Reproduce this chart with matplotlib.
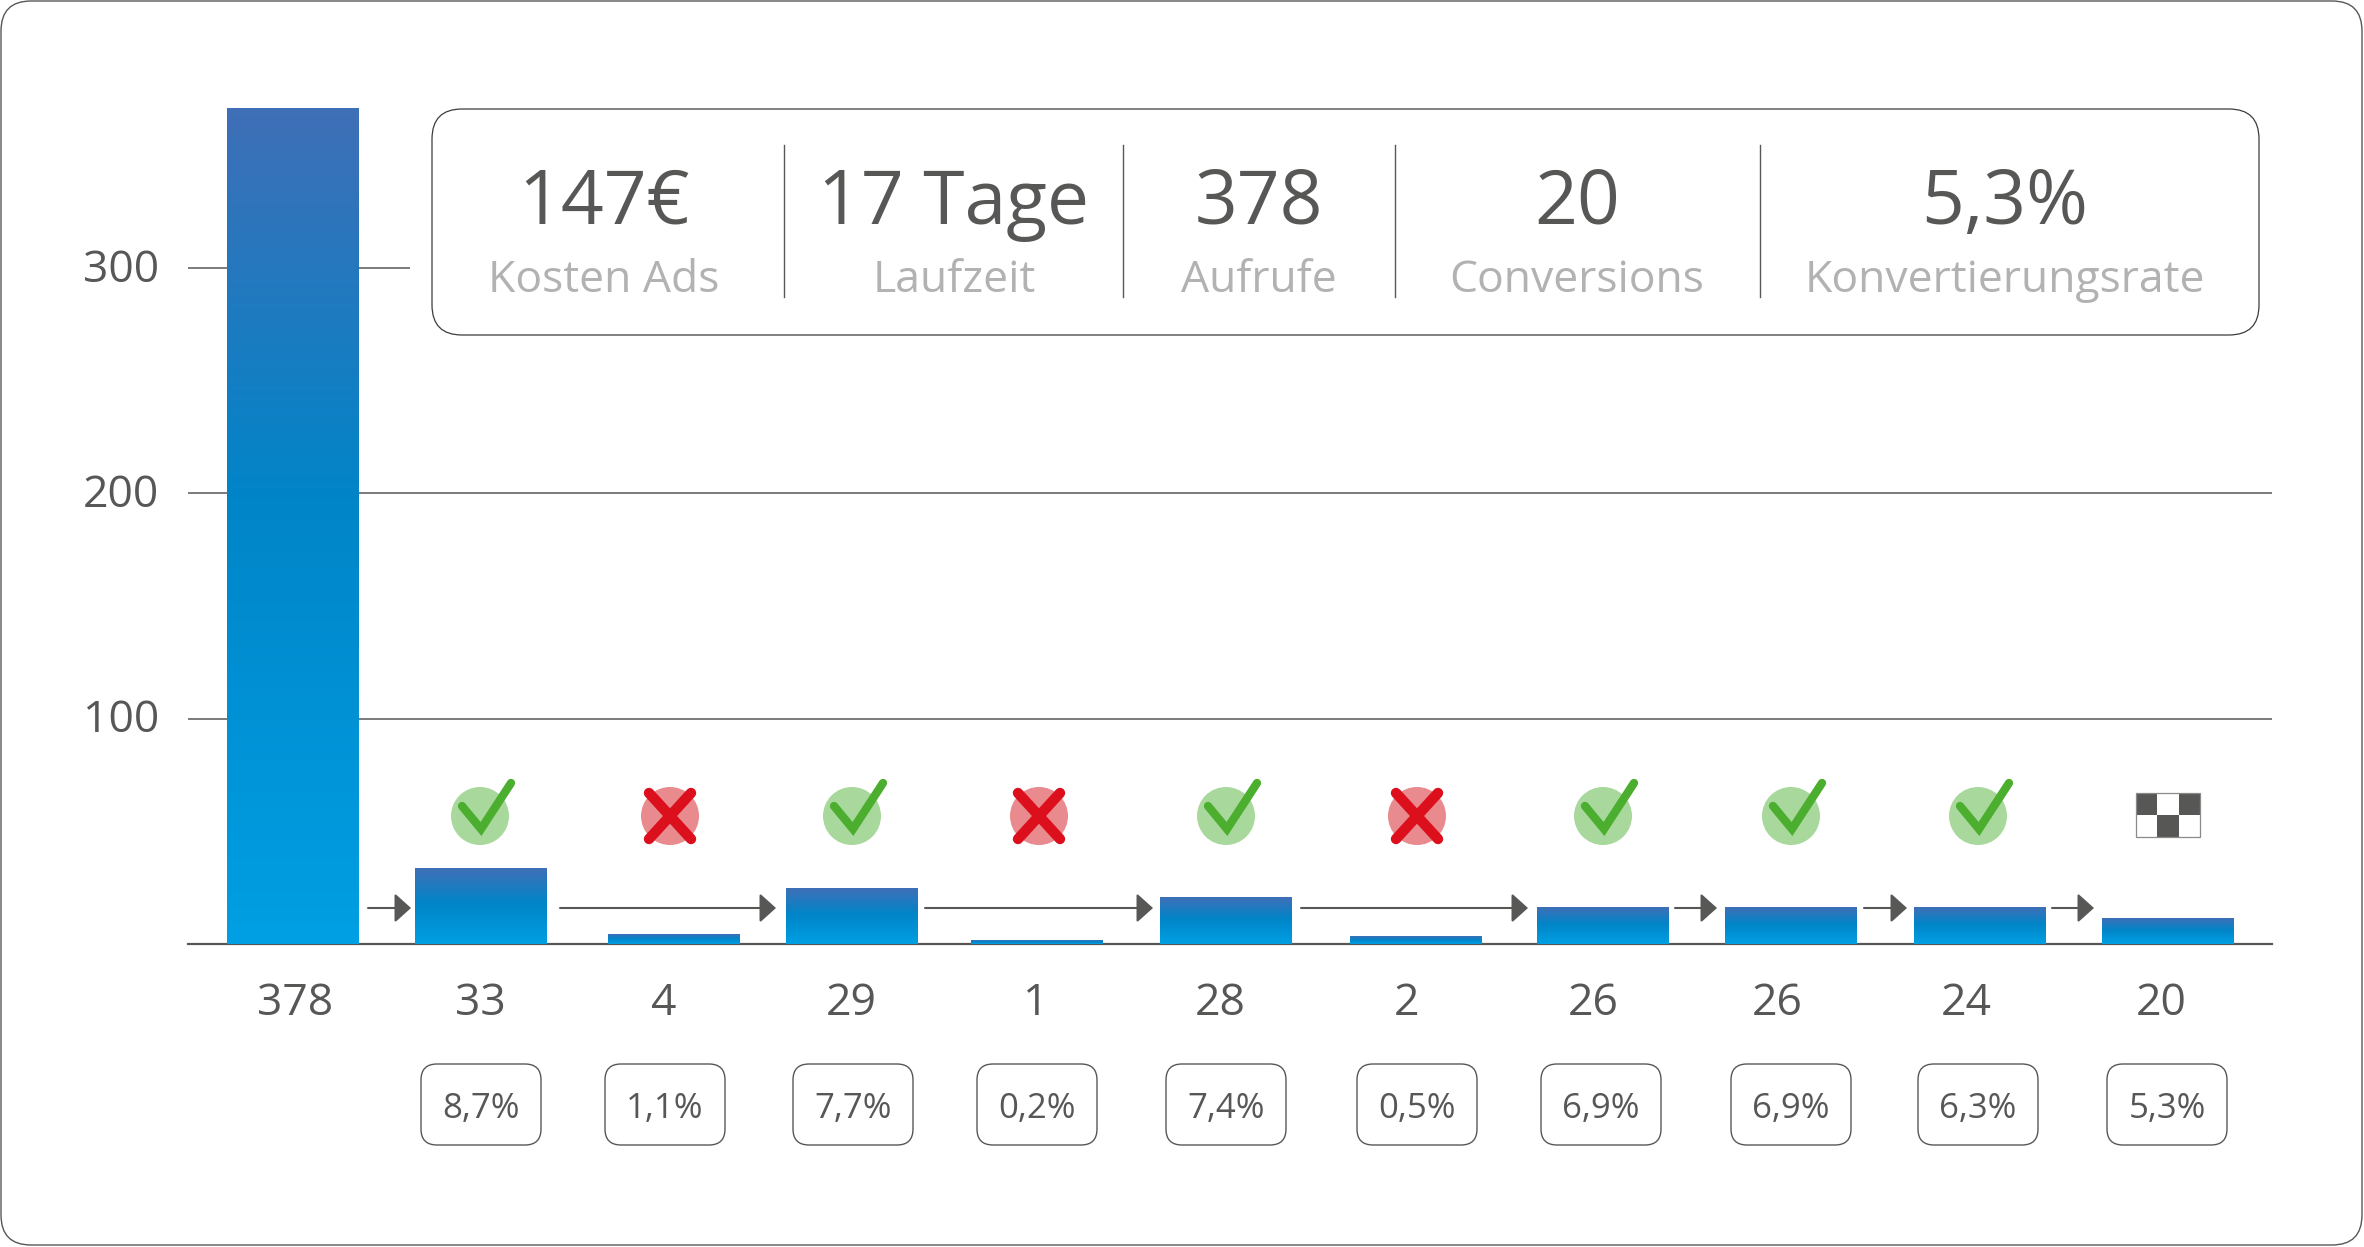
import numpy as np
import matplotlib
matplotlib.use("Agg")
import matplotlib.pyplot as plt
from matplotlib.colors import LinearSegmentedColormap
from matplotlib.patches import FancyBboxPatch, Circle, Rectangle
from matplotlib.transforms import ScaledTranslation

# values as drawn (the bars do not follow the printed numbers exactly)
bar_heights = [371, 33.3, 4, 24.8, 1.5, 20.7, 3.2, 16.4, 16.4, 16.4, 11.5]
view_labels = ["378", "33", "4", "29", "1", "28", "2", "26", "26", "24", "20"]
rate_labels = ["8,7%", "1,1%", "7,7%", "0,2%", "7,4%", "0,5%", "6,9%", "6,9%", "6,3%", "5,3%"]
icon_kinds = ["ok", "no", "ok", "no", "ok", "no", "ok", "ok", "ok", "flag"]
y_ticks = [100, 200, 300]
stat_values = ["147€", "17 Tage", "378", "20", "5,3%"]
stat_names = ["Kosten Ads", "Laufzeit", "Aufrufe", "Conversions", "Konvertierungsrate"]

# layout, in pixels of the 2364x1247 picture
bar_px = [293, 481, 674, 852, 1037, 1226, 1416, 1603, 1791, 1980, 2168]
label_px = [295, 480, 664, 851, 1036, 1220, 1407, 1593, 1777, 1966, 2161]
box_px = [481, 665, 853, 1037, 1226, 1417, 1601, 1791, 1978, 2167]
icon_px = [480, 670, 852, 1039, 1226, 1417, 1603, 1791, 1978, 2168]
arrow_px = [(368, 411), (560, 776), (925, 1153), (1301, 1528), (1675, 1717), (1864, 1907), (2052, 2094)]
stat_px = [604, 954, 1259, 1577, 2005]
sep_px = [784, 1123, 1395, 1760]

W, H = 2364, 1247
DARK = "#575756"
GREY = "#b2b2b2"
FONT = "Open Sans"
plt.rcParams["font.family"] = FONT

fig = plt.figure(figsize=(W / 100, H / 100), dpi=100)

# bar axes: x=188..2272, value 0 at y=944, value 371 at y=108
ax = fig.add_axes([188 / W, 1 - 944 / H, (2272 - 188) / W, (944 - 108) / H])
ax.set_xlim(188, 2272)
ax.set_ylim(0, 371)
for s in ["top", "left", "right"]:
    ax.spines[s].set_visible(False)
ax.spines["bottom"].set_color(DARK)
ax.spines["bottom"].set_linewidth(1.6)
ax.set_xticks(label_px, view_labels)
ax.set_yticks(y_ticks, [str(v) for v in y_ticks])
ax.tick_params(axis="both", length=0, colors=DARK, labelsize=32)
ax.tick_params(axis="x", pad=27)
ax.tick_params(axis="y", pad=21)
# y labels sit a little above their lines
up = ScaledTranslation(0, 3 / 100, fig.dpi_scale_trans)
for t in ax.get_yticklabels():
    t.set_transform(t.get_transform() + up)

ax.hlines([100, 200], 188, 2272, color=DARK, lw=1.1, zorder=1)
ax.hlines(300, 188, 410, color=DARK, lw=1.1, zorder=1)

bars = ax.bar(bar_px, bar_heights, width=132, color="#0085c8", zorder=2)
cmap = LinearSegmentedColormap.from_list("bar", [(0, "#3f6fb7"), (0.47, "#0085c8"), (1, "#009fe3")])
grad = np.linspace(0, 1, 256).reshape(-1, 1)
for b in bars:
    ax.imshow(grad, extent=[b.get_x(), b.get_x() + b.get_width(), 0, b.get_height()],
              cmap=cmap, aspect="auto", zorder=3)
ax.set_xlim(188, 2272)
ax.set_ylim(0, 371)

# overlay in picture pixels for frame, panel, icons, arrows
ov = fig.add_axes([0, 0, 1, 1], zorder=5)
ov.set_xlim(0, W)
ov.set_ylim(H, 0)
ov.axis("off")
ov.patch.set_alpha(0)


def rbox(x0, y0, x1, y1, r, lw, color=DARK):
    ov.add_patch(FancyBboxPatch((x0, y0), x1 - x0, y1 - y0, boxstyle=f"round,pad=0,rounding_size={r}",
                                fc="none", ec=color, lw=lw))


rbox(1, 1, 2362, 1245, 30, 1.0)
rbox(432, 109, 2259, 335, 30, 0.9, "#3c3c3b")

for x in sep_px:
    ov.plot([x, x], [145, 297], color=DARK, lw=1.0)
for x, val, name in zip(stat_px, stat_values, stat_names):
    ov.text(x, 224, val, ha="center", va="baseline", fontsize=54, color=DARK)
    ov.text(x, 292, name, ha="center", va="baseline", fontsize=32, color=GREY)

# small rate boxes
for x, txt in zip(box_px, rate_labels):
    rbox(x - 60, 1064, x + 60, 1145, 16, 1.0)
    ov.text(x, 1118, txt, ha="center", va="baseline", fontsize=25, color=DARK)

# arrows between the steps
for x0, x1 in arrow_px:
    ov.annotate("", xy=(x1, 908), xytext=(x0, 908),
                arrowprops=dict(arrowstyle="-|>,head_length=10,head_width=9", mutation_scale=1,
                                shrinkA=0, shrinkB=0, color=DARK, lw=1.5))

# status icons
cy = 816
for x, kind in zip(icon_px, icon_kinds):
    if kind == "ok":
        ov.add_patch(Circle((x, cy), 29, fc="#a8d89c", ec="none"))
        ov.plot([x - 18, x + 1, x + 31], [cy - 10, cy + 13, cy - 33], color="#4bae2f", lw=6,
                solid_capstyle="round", solid_joinstyle="miter")
    elif kind == "no":
        ov.add_patch(Circle((x, cy), 29, fc="#e98a8f", ec="none"))
        ov.plot([x - 21, x + 21], [cy - 23, cy + 23], color="#dc0f1d", lw=7.5, solid_capstyle="round")
        ov.plot([x - 21, x + 21], [cy + 23, cy - 23], color="#dc0f1d", lw=7.5, solid_capstyle="round")
    else:
        cell_w, cell_h = 64 / 3, 22
        for r in range(2):
            for c in range(3):
                fc = DARK if (r + c) % 2 == 0 else "white"
                ov.add_patch(Rectangle((x - 32 + c * cell_w, cy - 23 + r * cell_h), cell_w, cell_h,
                                       fc=fc, ec="none"))
        ov.add_patch(Rectangle((x - 32, cy - 23), 64, 44, fc="none", ec="#8a8a8a", lw=0.9))

fig.savefig("out.png", dpi=100, facecolor="white")
